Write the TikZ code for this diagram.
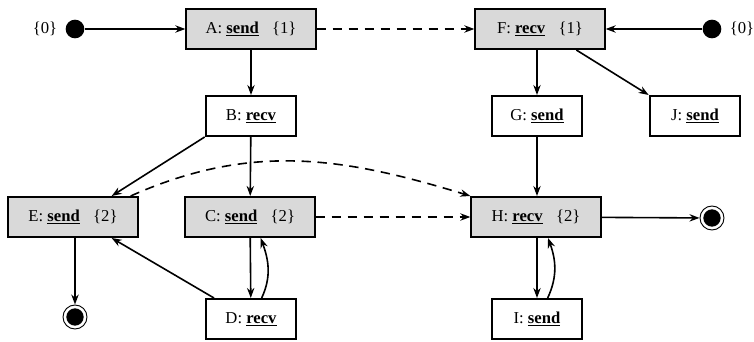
\documentclass[tikz,border=0pt]{standalone}
\usepackage{fontspec}
\setmainfont{Liberation Serif}
\usepackage{tikz}
\usetikzlibrary{calc, arrows.meta}

\newcommand{\op}[1]{\underline{\textbf{#1}}}

\begin{document}
\begin{tikzpicture}[x=0.75pt, y=-0.75pt,
        font=\fontsize{12.5}{14}\selectfont,
        every node/.style={inner sep=0pt},
        act/.style={draw, line width=1.5pt, minimum height=30pt, minimum width=68pt},
        sync/.style={act, fill=black!15, minimum width=97pt},
        arr/.style={line width=1.2pt, -{Stealth[length=7.5pt, width=5.5pt]}},
        darr/.style={arr, dash pattern=on 7pt off 5pt}]
        \useasboundingbox (0,0) rectangle (754,342);
        % start points
        \node[circle, fill, minimum size=14pt] (s1) at (75,29) {};
        \node (l1) at (45,29) {\{0\}};
        \node[circle, fill, minimum size=14pt] (s2) at (712,29) {};
        \node (l2) at (742,29) {\{0\}};
        % actions
        \node[sync] (A) at (251,29) {A: \op{send}\hspace{0.8em}\{1\}};
        \node[sync] (F) at (540,29) {F: \op{recv}\hspace{0.8em}\{1\}};
        \node[act] (B) at (251,116) {B: \op{recv}};
        \node[act] (G) at (537,116) {G: \op{send}};
        \node[act] (J) at (695,116) {J: \op{send}};
        \node[sync] (E) at (73,217) {E: \op{send}\hspace{0.8em}\{2\}};
        \node[sync] (C) at (250,217) {C: \op{send}\hspace{0.8em}\{2\}};
        \node[sync] (H) at (536,217) {H: \op{recv}\hspace{0.8em}\{2\}};
        \node[act] (D) at (251,319) {D: \op{recv}};
        \node[act] (I) at (537,319) {I: \op{send}};
        % end points
        \node[circle, draw, line width=0.7pt, minimum size=18pt] (e1) at (75,317) {};
        \fill (e1) circle (6.5pt);
        \node[circle, draw, line width=0.7pt, minimum size=18pt] (e2) at (712,218) {};
        \fill (e2) circle (6.5pt);
        % connectors
        \draw[arr] (s1) -- (A);
        \draw[arr] (s2) -- (F);
        \draw[darr] (A) -- (F);
        \draw[arr] (A) -- (B);
        \draw[arr] (F.south -| G.north) -- (G.north);
        \draw[arr] ([xshift=-22pt]F.south east) -- (J.north west);
        \draw[arr] (B.south west) -- ([xshift=29pt]E.north);
        \draw[arr] (B) -- (C);
        \draw[darr] ([xshift=-6pt]E.north east) to[out=24, in=163] (H.north west);
        \draw[darr] (C) -- (H);
        \draw[arr] (C) -- (D);
        \draw[arr] ([xshift=8pt]D.north) to[out=65, in=-70] ([xshift=8pt]C.south);
        \draw[arr] ([xshift=7pt]D.north west) -- ([xshift=29pt]E.south);
        \draw[arr] (E.south -| e1.north) -- (e1);
        \draw[arr] (G.south) -- (G.south |- H.north);
        \draw[arr] (H) -- (e2);
        \draw[arr] (H.south -| I.north) -- (I);
        \draw[arr] ([xshift=8pt]I.north) to[out=65, in=-70] ([xshift=9pt]H.south);
\end{tikzpicture}
\end{document}
